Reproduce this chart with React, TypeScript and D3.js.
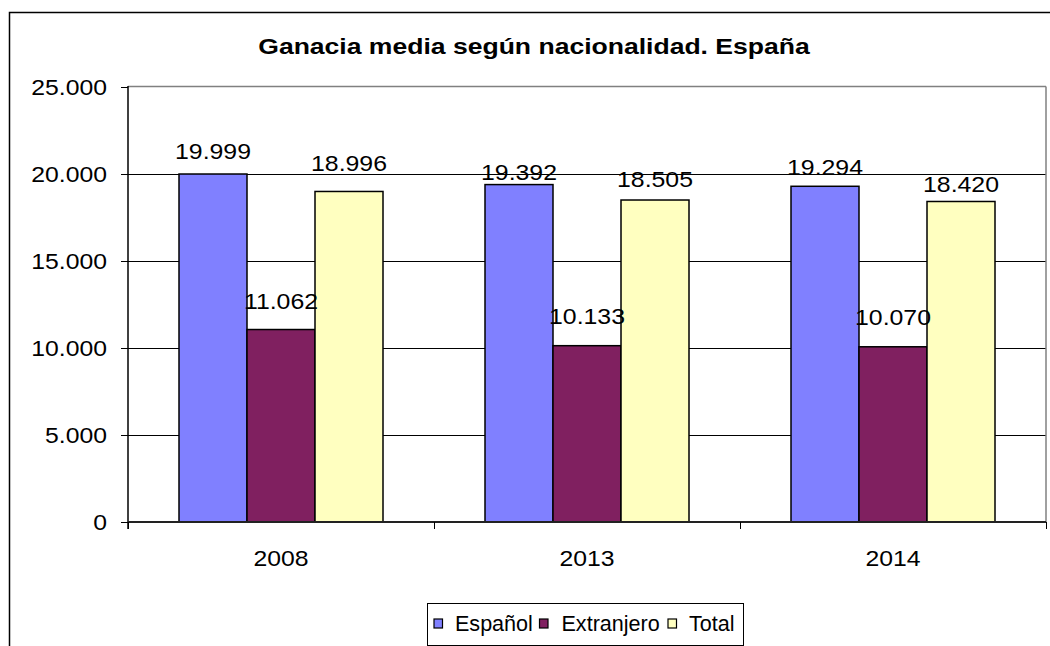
import React from "react";
import * as d3 from "d3";

const title = "Ganacia media según nacionalidad. España";
const categories = ["2008", "2013", "2014"];
const seriesNames = ["Español", "Extranjero", "Total"];
const espanol = [19999, 19392, 19294];
const extranjero = [11062, 10133, 10070];
const total = [18996, 18505, 18420];
const yTicks = [0, 5000, 10000, 15000, 20000, 25000];
const colors = ["#8080FF", "#802060", "#FFFFC0"];
// pixel gap between each data label baseline and its bar top (per series, per category)
const labelGap = [
  [15, 5, 11.5],
  [20.5, 21.5, 21.5],
  [20.5, 13, 9],
];

const series = [espanol, extranjero, total];
const fmt = (v: number) => d3.format(",")(v).replace(/,/g, ".");

const W = 1050, H = 646;
const L = 128, R = 1046, T = 87, B = 522;
const FONT = "'Liberation Sans', Arial, sans-serif";
const SX = 1.13;

function SText({ x, y, anchor = "middle", size = 22, weight = "normal", sx = SX, children }: any) {
  return (
    <text
      transform={`translate(${x},${y}) scale(${sx},1)`}
      textAnchor={anchor}
      fontFamily={FONT}
      fontSize={size}
      fontWeight={weight}
      fill="#000"
    >
      {children}
    </text>
  );
}

export default function App() {
  const x0 = d3.scaleBand<string>().domain(categories).range([L, R]).paddingInner(0).paddingOuter(0);
  const bw = x0.bandwidth();
  const x1 = d3.scaleBand<string>().domain(seriesNames).range([bw / 6, (bw * 5) / 6]).padding(0);
  const y = d3.scaleLinear().domain([0, 25000]).range([B, T]);

  const legendX = [434, 539.5, 668];
  const legendTextX = [455, 561.5, 689];

  return (
    <svg width={W} height={H} style={{ position: "absolute", left: 0, top: 0, background: "#fff" }}>
      <rect x={0} y={0} width={W} height={H} fill="#fff" />
      <rect x={9.5} y={12.5} width={1100} height={700} fill="none" stroke="#000" strokeWidth={1.5} />
      <SText x={534} y={53.5} size={22.5} weight="bold" sx={1.18}>{title}</SText>

      {/* gridlines */}
      {yTicks.filter((t) => t > 0 && t < 25000).map((t) => (
        <line key={t} x1={L} x2={R} y1={Math.round(y(t)) + 0.5} y2={Math.round(y(t)) + 0.5} stroke="#000" strokeWidth={1} />
      ))}
      {/* plot border top/right */}
      <line x1={L} x2={R} y1={T - 0.5} y2={T - 0.5} stroke="#808080" strokeWidth={1.5} />
      <line x1={R} x2={R} y1={T - 0.5} y2={B} stroke="#808080" strokeWidth={1.5} />

      {/* bars */}
      {categories.map((c, ci) =>
        seriesNames.map((s, si) => {
          const v = series[si][ci];
          const bx = (x0(c) as number) + (x1(s) as number);
          return (
            <rect
              key={c + s}
              x={bx}
              y={y(v)}
              width={x1.bandwidth()}
              height={B - y(v)}
              fill={colors[si]}
              stroke="#000"
              strokeWidth={1.5}
            />
          );
        })
      )}

      {/* y axis */}
      <line x1={L} x2={L} y1={T - 1} y2={B + 7} stroke="#000" strokeWidth={1.5} />
      {yTicks.map((t) => (
        <g key={t}>
          <line x1={L - 7} x2={L} y1={Math.round(y(t)) + 0.5} y2={Math.round(y(t)) + 0.5} stroke="#000" strokeWidth={1} />
          <SText x={107} y={y(t) + 7.5} anchor="end" size={22.5} sx={1.1}>{t === 0 ? "0" : fmt(t)}</SText>
        </g>
      ))}
      {/* x axis */}
      <line x1={L} x2={R} y1={B} y2={B} stroke="#222" strokeWidth={2} />
      {[...categories.map((c) => x0(c) as number), R].map((xx, i) => (
        <line key={i} x1={Math.round(xx) + 0.5} x2={Math.round(xx) + 0.5} y1={B} y2={B + 7} stroke="#000" strokeWidth={1} />
      ))}
      {categories.map((c) => (
        <SText key={c} x={(x0(c) as number) + bw / 2} y={566} size={22.5} sx={1.1}>{c}</SText>
      ))}

      {/* data labels */}
      {categories.map((c, ci) =>
        seriesNames.map((s, si) => {
          const v = series[si][ci];
          const cx = (x0(c) as number) + (x1(s) as number) + x1.bandwidth() / 2;
          return (
            <SText key={"l" + c + s} x={cx} y={y(v) - labelGap[si][ci]} size={22}>{fmt(v)}</SText>
          );
        })
      )}

      {/* legend */}
      <rect x={427.5} y={603.5} width={316} height={42} fill="#fff" stroke="#000" strokeWidth={1} />
      {seriesNames.map((s, i) => (
        <g key={s}>
          <rect x={legendX[i]} y={619} width={8.5} height={9} fill={colors[i]} stroke="#000" strokeWidth={1.2} />
          <SText x={legendTextX[i]} y={631} anchor="start" size={22} sx={0.98}>{s}</SText>
        </g>
      ))}
    </svg>
  );
}
